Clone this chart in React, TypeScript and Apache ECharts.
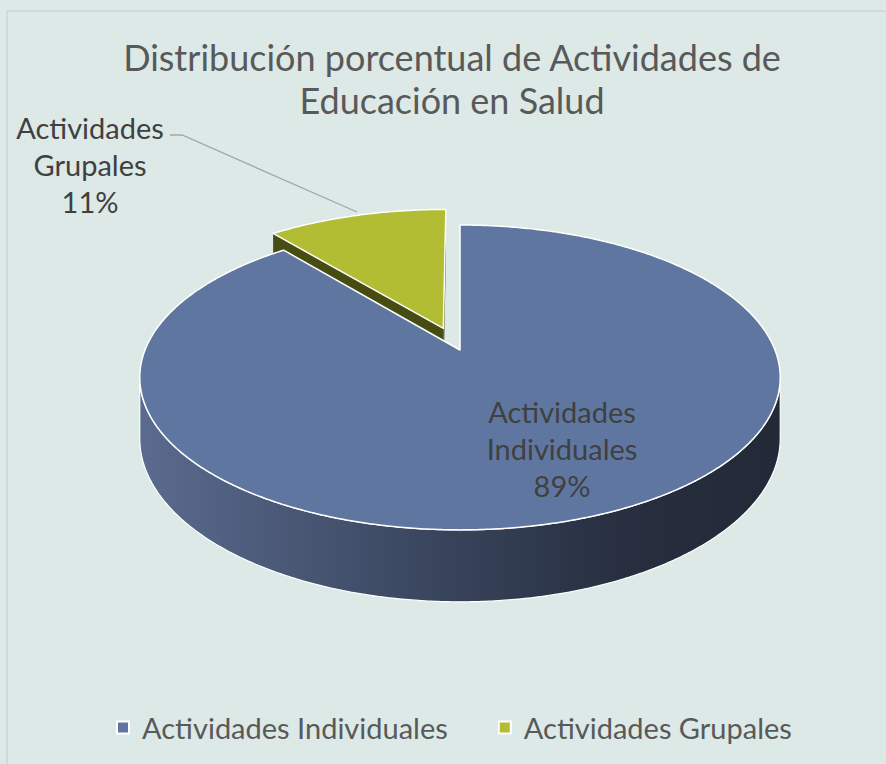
import React, { useEffect, useRef } from "react";
import * as echarts from "echarts";

// ---- data ----
const categories = ["Actividades Individuales", "Actividades Grupales"];
const values = [89, 11];
const titleLines = ["Distribución porcentual de Actividades de", "Educación en Salud"];

const total = values.reduce((a, b) => a + b, 0);

// ---- 3D projection (layout) ----
const CX = 460, CY = 350, AX = 315, AY = 147.5, K = 0.18, H = 59;
const W_CAM = -4.33;
function proj(u: number, w: number, drop: number): number[] {
  const d = 1 + K * w;
  return [CX + (AX * u) / d, CY - (AY * w) / d + (H * drop) / d];
}

const explode = [0, 0.16];
const topColors = ["#5f77a0", "#b2bd33"];
const edgeWallColors = ["#3b4760", "#474d12"];

function makeRender(idx: number) {
  return (params: any, api: any) => {
    const v = api.value(0);
    let start = 0;
    for (let i = 0; i < idx; i++) start += values[i];
    const a0 = (start / total) * Math.PI * 2;
    const a1 = ((start + v) / total) * Math.PI * 2;
    const mid = (a0 + a1) / 2;
    const e = explode[idx];
    const ou = e * Math.sin(mid), ow = e * Math.cos(mid);
    const pt = (t: number, r: number, drop: number) =>
      proj(ou + r * Math.sin(t), ow + r * Math.cos(t), drop);

    const children: any[] = [];
    // radial walls
    const edges = [
      { a: a0, n: a0 - Math.PI / 2 },
      { a: a1, n: a1 + Math.PI / 2 },
    ];
    edges.forEach((ed) => {
      const pu = ou + 0.5 * Math.sin(ed.a), pw = ow + 0.5 * Math.cos(ed.a);
      const dot = Math.sin(ed.n) * (0 - pu) + Math.cos(ed.n) * (W_CAM - pw);
      if (dot > 1e-6) {
        children.push({
          type: "polygon",
          z2: 0,
          shape: { points: [pt(ed.a, 0, 0), pt(ed.a, 1, 0), pt(ed.a, 1, 1), pt(ed.a, 0, 1)] },
          style: { fill: edgeWallColors[idx], stroke: null },
        });
      }
    });
    // outer wall (front-facing part)
    const vs = Math.acos(-K), ve = Math.PI * 2 - Math.acos(-K);
    const s = Math.max(a0, vs), en = Math.min(a1, ve);
    if (en > s) {
      const n = Math.max(8, Math.ceil((en - s) / (Math.PI / 360)));
      const pts: number[][] = [];
      for (let i = 0; i <= n; i++) pts.push(pt(s + ((en - s) * i) / n, 1, 0));
      for (let i = n; i >= 0; i--) pts.push(pt(s + ((en - s) * i) / n, 1, 1));
      children.push({
        type: "polygon",
        z2: 1,
        shape: { points: pts },
        style: {
          fill:
            idx === 0
              ? new echarts.graphic.LinearGradient(0, 0, 1, 0, [
                  { offset: 0, color: "#5a6b8f" },
                  { offset: 0.45, color: "#3a465e" },
                  { offset: 0.75, color: "#272f40" },
                  { offset: 1, color: "#222a38" },
                ])
              : edgeWallColors[idx],
          stroke: "#ffffff",
          lineWidth: 1.2,
        },
      });
    }
    // top face
    const n = Math.max(8, Math.ceil((a1 - a0) / (Math.PI / 360)));
    const topPts: number[][] = [pt(0, 0, 0)];
    for (let i = 0; i <= n; i++) topPts.push(pt(a0 + ((a1 - a0) * i) / n, 1, 0));
    children.push({
      type: "polygon",
      z2: 2,
      shape: { points: topPts },
      style: { fill: topColors[idx], stroke: "#ffffff", lineWidth: 1.5, lineJoin: "round" },
    });
    return { type: "group", children };
  };
}

function labelText(i: number) {
  const pct = Math.round((values[i] / total) * 100);
  return categories[i].replace(" ", "\n") + "\n" + pct + "%";
}

const FONT = "Lato, 'Open Sans', sans-serif";

export default function App() {
  const ref = useRef<HTMLDivElement>(null);
  useEffect(() => {
    const chart = echarts.init(ref.current!, null, { renderer: "svg" });
    chart.setOption({
      animation: false,
      backgroundColor: "#dce9e7",
      textStyle: { fontFamily: FONT },
      legend: {
        data: categories,
        left: 111,
        top: 708,
        itemGap: 50,
        itemWidth: 12,
        itemHeight: 12,
        icon: "rect",
        itemStyle: { borderColor: "#ffffff", borderWidth: 2 },
        textStyle: { fontSize: 29, color: "#595959", fontFamily: FONT, padding: [0, 0, 0, 8] },
        selectedMode: false,
      },
      graphic: [
        {
          type: "rect",
          silent: true,
          shape: { x: 7, y: 11, width: 900, height: 800 },
          style: { fill: null, stroke: "#d3d8d8", lineWidth: 2 },
        },
        {
          type: "text",
          silent: true,
          x: 452,
          y: 78,
          style: {
            text: titleLines.join("\n"),
            fill: "#595959",
            font: `36px ${FONT}`,
            align: "center",
            verticalAlign: "middle",
            lineHeight: 43,
          },
        },
        {
          type: "text",
          silent: true,
          z: 10,
          x: 562,
          y: 448,
          style: {
            text: labelText(0),
            fill: "#404040",
            font: `29px ${FONT}`,
            align: "center",
            verticalAlign: "middle",
            lineHeight: 37,
          },
        },
        {
          type: "text",
          silent: true,
          z: 10,
          x: 90,
          y: 164,
          style: {
            text: labelText(1),
            fill: "#404040",
            font: `29px ${FONT}`,
            align: "center",
            verticalAlign: "middle",
            lineHeight: 37,
          },
        },
        {
          type: "polyline",
          silent: true,
          shape: { points: [[170, 135], [182, 135], [357, 212]] },
          style: { stroke: "#a6a6a6", lineWidth: 1.3, fill: null },
        },
      ],
      series: categories.map((name, i) => ({
        type: "custom",
        name,
        coordinateSystem: "none",
        z: i === 0 ? 3 : 2,
        silent: true,
        itemStyle: { color: topColors[i] },
        data: [[values[i]]],
        renderItem: makeRender(i),
      })),
    });
    return () => chart.dispose();
  }, []);
  return (
    <div
      ref={ref}
      style={{ position: "fixed", left: 0, top: 0, width: 886, height: 764 }}
    />
  );
}
